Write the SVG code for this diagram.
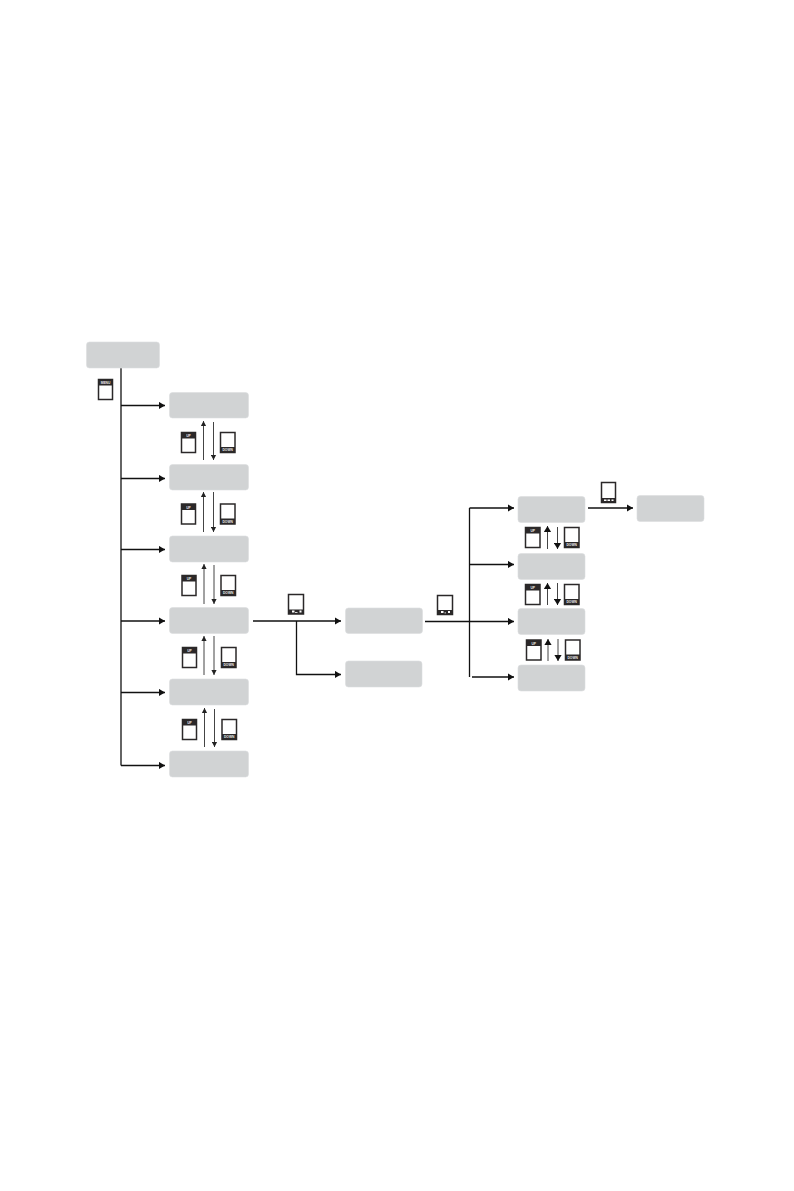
<svg xmlns="http://www.w3.org/2000/svg" width="794" height="1191" viewBox="0 0 794 1191">
<style>
.box{fill:#d1d3d4;stroke:#dcdedf;stroke-width:.6}
.c{fill:none;stroke:#111;stroke-width:1.3}
.s{fill:none;stroke:#444;stroke-width:1}
.frame{fill:#fff;stroke:#2b2829;stroke-width:1.5}
.bar{fill:#2b2829}
.mk{fill:#fff}
.t{font-family:"Liberation Sans",Arial,sans-serif;font-size:3.3px;font-weight:700;fill:#eee;text-anchor:middle;opacity:.99}
</style>
<defs>
<marker id="a" markerUnits="userSpaceOnUse" markerWidth="8" markerHeight="8" refX="6" refY="4" orient="auto"><path d="M0 .4L6 4L0 7.6Z" fill="#111"/></marker>
<marker id="b" markerUnits="userSpaceOnUse" markerWidth="6" markerHeight="6" refX="5" refY="3" orient="auto"><path d="M0 .4L5 3L0 5.6Z" fill="#222"/></marker>
</defs>
<rect width="794" height="1191" fill="#fff"/>
<g id="connectors">
<path class="c" d="M121 368V765.5"/>
<path class="c" marker-end="url(#a)" d="M121 405.5H165"/>
<path class="c" marker-end="url(#a)" d="M121 478.5H165"/>
<path class="c" marker-end="url(#a)" d="M121 549.5H165"/>
<path class="c" marker-end="url(#a)" d="M121 621H165"/>
<path class="c" marker-end="url(#a)" d="M121 692.5H165"/>
<path class="c" marker-end="url(#a)" d="M121 765.5H165"/>
<path class="c" marker-end="url(#a)" d="M253 621H341"/>
<path class="c" marker-end="url(#a)" d="M296.500 621V674.500H341"/>
<path class="c" marker-end="url(#a)" d="M425 621.500H514"/>
<path class="c" d="M469.500 508V677"/>
<path class="c" marker-end="url(#a)" d="M469.500 508H514"/>
<path class="c" marker-end="url(#a)" d="M469.500 564.500H514"/>
<path class="c" marker-end="url(#a)" d="M472 677H514"/>
<path class="c" marker-end="url(#a)" d="M588 508H633"/>
<path class="s" marker-end="url(#b)" d="M203.500 460V421"/>
<path class="s" marker-end="url(#b)" d="M213.500 422V460"/>
<path class="s" marker-end="url(#b)" d="M203.500 532V492"/>
<path class="s" marker-end="url(#b)" d="M213.500 492V532"/>
<path class="s" marker-end="url(#b)" d="M204 604V564"/>
<path class="s" marker-end="url(#b)" d="M214 565V604"/>
<path class="s" marker-end="url(#b)" d="M204 675V636"/>
<path class="s" marker-end="url(#b)" d="M214 636V675"/>
<path class="s" marker-end="url(#b)" d="M204.500 747V708"/>
<path class="s" marker-end="url(#b)" d="M214.500 709V747"/>
<path class="s" marker-end="url(#a)" d="M547.500 549V526"/>
<path class="s" marker-end="url(#a)" d="M557.500 527V549"/>
<path class="s" marker-end="url(#a)" d="M547.500 605V583"/>
<path class="s" marker-end="url(#a)" d="M557.500 583V605"/>
<path class="s" marker-end="url(#a)" d="M548 661V639"/>
<path class="s" marker-end="url(#a)" d="M558 639V661"/>
</g>
<g id="node-top"><rect class="box" x="86.500" y="342" width="73" height="26" rx="3"/></g>
<g id="node-a1"><rect class="box" x="169.500" y="392.500" width="79" height="25.500" rx="3"/></g>
<g id="node-a2"><rect class="box" x="169.500" y="464.500" width="79" height="25.500" rx="3"/></g>
<g id="node-a3"><rect class="box" x="169.500" y="536" width="79" height="26" rx="3"/></g>
<g id="node-a4"><rect class="box" x="169.500" y="607.500" width="79" height="26" rx="3"/></g>
<g id="node-a5"><rect class="box" x="169.500" y="679" width="79" height="26" rx="3"/></g>
<g id="node-a6"><rect class="box" x="169.500" y="751" width="79" height="26" rx="3"/></g>
<g id="node-b1"><rect class="box" x="345.500" y="608" width="77" height="25.500" rx="3"/></g>
<g id="node-b2"><rect class="box" x="345.500" y="661" width="76.500" height="26" rx="3"/></g>
<g id="node-c1"><rect class="box" x="518" y="496.500" width="67" height="26" rx="3"/></g>
<g id="node-c2"><rect class="box" x="518" y="553.500" width="67" height="26" rx="3"/></g>
<g id="node-c3"><rect class="box" x="518" y="608.500" width="67" height="26" rx="3"/></g>
<g id="node-c4"><rect class="box" x="518" y="665" width="67" height="26" rx="3"/></g>
<g id="node-d1"><rect class="box" x="637" y="495.500" width="67" height="26" rx="3"/></g>
<g id="btn-menu"><rect class="frame" x="98.500" y="379.500" width="14" height="20"/><rect class="bar" x="98.500" y="379.500" width="14" height="6"/><text class="t" x="105.500" y="384">MENU</text></g>
<g id="btn-up1"><rect class="frame" x="181.500" y="432.500" width="14" height="20"/><rect class="bar" x="181.500" y="432.500" width="14" height="6"/><text class="t" x="188.500" y="437">UP</text></g>
<g id="btn-down1"><rect class="frame" x="220.500" y="432.500" width="14.500" height="20"/><rect class="bar" x="220.500" y="447" width="14.500" height="5.500"/><text class="t" x="227.700" y="451.200">DOWN</text></g>
<g id="btn-up2"><rect class="frame" x="181.500" y="504" width="14" height="20"/><rect class="bar" x="181.500" y="504" width="14" height="6"/><text class="t" x="188.500" y="508.500">UP</text></g>
<g id="btn-down2"><rect class="frame" x="220.500" y="504" width="14.500" height="20"/><rect class="bar" x="220.500" y="518.500" width="14.500" height="5.500"/><text class="t" x="227.700" y="522.700">DOWN</text></g>
<g id="btn-up3"><rect class="frame" x="182" y="575.500" width="14" height="20"/><rect class="bar" x="182" y="575.500" width="14" height="6"/><text class="t" x="189" y="580">UP</text></g>
<g id="btn-down3"><rect class="frame" x="221" y="575.500" width="14.500" height="20"/><rect class="bar" x="221" y="590" width="14.500" height="5.500"/><text class="t" x="228.200" y="594.200">DOWN</text></g>
<g id="btn-up4"><rect class="frame" x="182.500" y="647.500" width="14" height="20"/><rect class="bar" x="182.500" y="647.500" width="14" height="6"/><text class="t" x="189.500" y="652">UP</text></g>
<g id="btn-down4"><rect class="frame" x="221.500" y="647.500" width="14.500" height="20"/><rect class="bar" x="221.500" y="662" width="14.500" height="5.500"/><text class="t" x="228.700" y="666.200">DOWN</text></g>
<g id="btn-up5"><rect class="frame" x="182.500" y="719.500" width="14" height="20"/><rect class="bar" x="182.500" y="719.500" width="14" height="6"/><text class="t" x="189.500" y="724">UP</text></g>
<g id="btn-down5"><rect class="frame" x="222" y="719.500" width="14.500" height="20"/><rect class="bar" x="222" y="734" width="14.500" height="5.500"/><text class="t" x="229.200" y="738.200">DOWN</text></g>
<g id="btn-ok1"><rect class="frame" x="288.500" y="594.500" width="15" height="19.500"/><rect class="bar" x="288.500" y="609.500" width="15" height="4.500"/><rect class="mk" x="292" y="610.500" width="2.500" height="2"/><rect class="mk" x="295" y="612" width="2.500" height=".8"/><rect class="mk" x="299.500" y="610.500" width="2" height="2"/></g>
<g id="btn-ok2"><rect class="frame" x="437.500" y="595.500" width="15" height="19"/><rect class="bar" x="437.500" y="610" width="15" height="4.500"/><rect class="mk" x="441" y="611" width="2.500" height="2"/><rect class="mk" x="444.500" y="612.500" width="1.500" height=".8"/><rect class="mk" x="448" y="611" width="2" height="2"/></g>
<g id="btn-ok3"><rect class="frame" x="601.500" y="482.500" width="14" height="20"/><rect class="bar" x="601.500" y="498" width="14" height="4.500"/><rect class="mk" x="604" y="499.500" width="2.500" height="1.500"/><rect class="mk" x="607.500" y="499.500" width="2.500" height="1.500"/><rect class="mk" x="611.500" y="499.500" width="2" height="1.500"/></g>
<g id="btn-up6"><rect class="frame" x="525.500" y="527.500" width="14.500" height="20"/><rect class="bar" x="525.500" y="527.500" width="14.500" height="6"/><text class="t" x="532.700" y="532">UP</text></g>
<g id="btn-down6"><rect class="frame" x="564.500" y="527.500" width="14.500" height="20"/><rect class="bar" x="564.500" y="542" width="14.500" height="5.500"/><text class="t" x="571.700" y="546.200">DOWN</text></g>
<g id="btn-up7"><rect class="frame" x="525.500" y="584.500" width="14.500" height="20"/><rect class="bar" x="525.500" y="584.500" width="14.500" height="6"/><text class="t" x="532.700" y="589">UP</text></g>
<g id="btn-down7"><rect class="frame" x="564.500" y="584.500" width="14.500" height="20"/><rect class="bar" x="564.500" y="599" width="14.500" height="5.500"/><text class="t" x="571.700" y="603.200">DOWN</text></g>
<g id="btn-up8"><rect class="frame" x="526.500" y="640" width="14.500" height="20"/><rect class="bar" x="526.500" y="640" width="14.500" height="6"/><text class="t" x="533.700" y="644.500">UP</text></g>
<g id="btn-down8"><rect class="frame" x="565.500" y="640" width="14.500" height="20"/><rect class="bar" x="565.500" y="654.500" width="14.500" height="5.500"/><text class="t" x="572.700" y="658.700">DOWN</text></g>
</svg>
